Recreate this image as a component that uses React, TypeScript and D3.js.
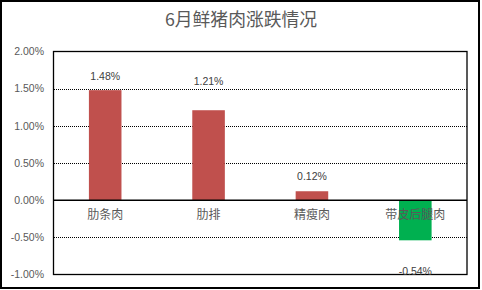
import React from "react";
import * as d3 from "d3";

const title = "6月鲜猪肉涨跌情况";
const categories = ["肋条肉", "肋排", "精瘦肉", "带皮后腿肉"];
const values = [1.48, 1.21, 0.12, -0.54];
const labelAnchors = [1.67, 1.6, 0.32, -0.96];
const yTicks = [2, 1.5, 1, 0.5, 0, -0.5, -1];

const W = 482;
const H = 290;
const plot = { left: 53.5, right: 467, top: 51.5, bottom: 274.5 };
const FONT = "'Liberation Sans', 'Noto Sans CJK SC', sans-serif";
const CJK = "'Noto Sans CJK SC', sans-serif";

export default function App() {
  const x = d3.scaleBand<string>().domain(categories).range([plot.left, plot.right]).padding(0);
  const y = d3.scaleLinear().domain([-1, 2]).range([plot.bottom, plot.top]);
  const bw = x.bandwidth() * 0.315;
  const fmt = (v: number) => v.toFixed(2) + "%";

  return (
    <svg
      width={W}
      height={H}
      style={{ position: "fixed", left: 0, top: 0, background: "#fff" }}
      fontFamily={FONT}
    >
      <rect x={0} y={0} width={W} height={H} fill="#fff" />
      <rect x={1} y={1} width={478} height={287} fill="none" stroke="#000" strokeWidth={2} />
      <text x={241} y={26} textAnchor="middle" fontSize={17.8} fill="#595959" fontFamily={CJK}>
        {title}
      </text>
      {yTicks
        .filter((t) => t !== 0 && t !== 2 && t !== -1)
        .map((t) => (
          <line
            key={"g" + t}
            x1={plot.left}
            x2={plot.right}
            y1={Math.round(y(t)) + 0.5}
            y2={Math.round(y(t)) + 0.5}
            stroke="#000"
            strokeWidth={1}
            strokeDasharray="1,1"
            shapeRendering="crispEdges"
          />
        ))}
      {categories.map((c, i) => {
        const v = values[i];
        const cx = x(c)! + x.bandwidth() / 2;
        return (
          <rect
            key={"b" + c}
            x={cx - bw / 2}
            y={y(Math.max(0, v))}
            width={bw}
            height={Math.abs(y(v) - y(0))}
            fill={v >= 0 ? "#C0504D" : "#00B050"}
          />
        );
      })}
      <line x1={plot.left} x2={plot.right} y1={y(0)} y2={y(0)} stroke="#000" strokeWidth={1.5} />
      <rect
        x={plot.left}
        y={plot.top}
        width={plot.right - plot.left}
        height={plot.bottom - plot.top}
        fill="none"
        stroke="#000"
        strokeWidth={1.3}
      />
      {yTicks.map((t) => (
        <text
          key={"t" + t}
          x={44}
          y={y(t)}
          dy="0.35em"
          textAnchor="end"
          fontSize={10.5}
          fill="#595959"
        >
          {fmt(t)}
        </text>
      ))}
      {categories.map((c) => (
        <text
          key={"c" + c}
          x={x(c)! + x.bandwidth() / 2}
          y={y(0) + 15}
          dy="0.35em"
          textAnchor="middle"
          fontSize={12}
          fill="#595959"
          fontFamily={CJK}
        >
          {c}
        </text>
      ))}
      {categories.map((c, i) => (
        <text
          key={"l" + c}
          x={x(c)! + x.bandwidth() / 2}
          y={y(labelAnchors[i])}
          dy="0.35em"
          textAnchor="middle"
          fontSize={10.5}
          fill="#404040"
        >
          {fmt(values[i])}
        </text>
      ))}
    </svg>
  );
}
